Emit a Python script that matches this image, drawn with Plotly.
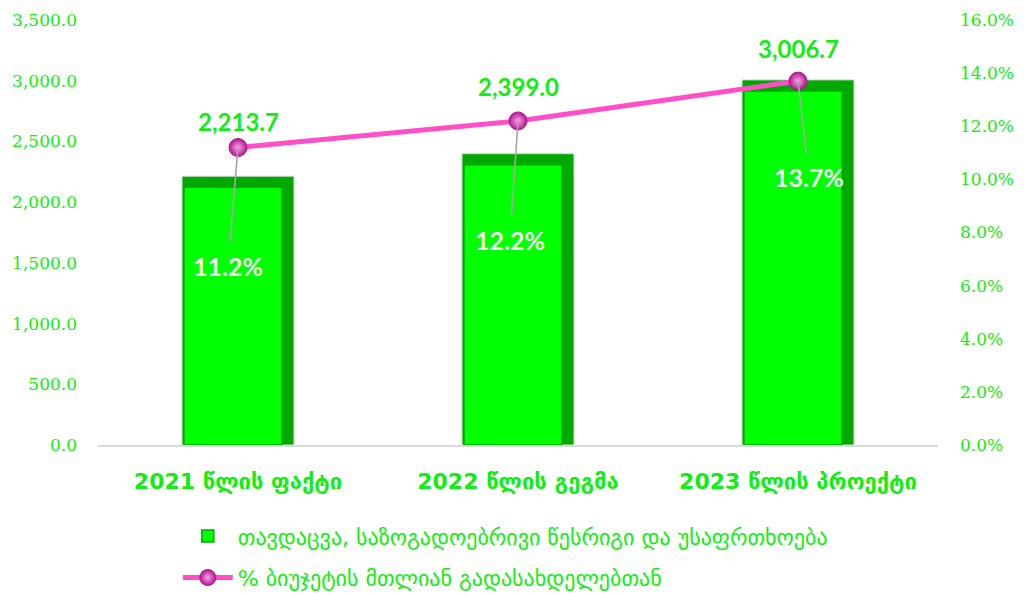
import plotly.graph_objects as go

# Spending on defence, public order and security (million GEL) and its share of the total budget
categories = ["2021 წლის ფაქტი", "2022 წლის გეგმა", "2023 წლის პროექტი"]
spending = [2213.7, 2399.0, 3006.7]
share_pct = [11.2, 12.2, 13.7]

bar_name = "თავდაცვა, საზოგადოებრივი წესრიგი და უსაფრთხოება"
line_name = "% ბიუჯეტის მთლიან გადასახდელებთან"

left_ticks = [0, 500, 1000, 1500, 2000, 2500, 3000, 3500]
right_ticks = [0, 0.02, 0.04, 0.06, 0.08, 0.10, 0.12, 0.14, 0.16]

GREEN = "#00FF00"
DARK_GREEN = "#00A800"
TEXT_GREEN = "#11EE11"
PINK = "#FF4FC8"

W, H = 1024, 596
M_L, M_R, M_T, M_B = 98, 86, 20, 151
plot_h = H - M_T - M_B
y_max = 3500
# bevel depth of the bar tops, expressed in data units
bevel = 11 * y_max / plot_h

share = [p / 100 for p in share_pct]

fig = go.Figure()

# outer (shaded) bar body
fig.add_trace(go.Bar(
    x=categories, y=spending, width=0.4,
    marker=dict(color=DARK_GREEN, line=dict(color="#D6D6D6", width=1)),
    showlegend=False, hoverinfo="skip",
))
# bright face of the bar, inset from the top and right edges
fig.add_trace(go.Bar(
    x=categories, y=[v - bevel for v in spending], width=0.35, offset=-0.193,
    marker=dict(color=GREEN, line=dict(color=DARK_GREEN, width=1.5)),
    name=bar_name, legendgroup="a",
))
# share of total budget
fig.add_trace(go.Scatter(
    x=categories, y=share, yaxis="y2", mode="lines+markers",
    line=dict(color=PINK, width=5),
    marker=dict(size=18, color="#B5148E",
                gradient=dict(type="radial", color="#F7A6EA"),
                line=dict(color="#B01A8C", width=1)),
    name=line_name, legendgroup="b",
))

annotations = []
# spending values above the bars
value_shift = [55, 67, 31]
for c, v, s in zip(categories, spending, value_shift):
    annotations.append(dict(
        x=c, y=v, xref="x", yref="y", text=f"{v:,.1f}", showarrow=False,
        yshift=s, font=dict(family="Lato", size=24, color=TEXT_GREEN, weight="bold"),
    ))
# share labels with leader lines to the markers
label_offsets = [(-10, 118), (-8, 119), (11, 96)]
for c, p, v, (ax, ay) in zip(categories, share_pct, share, label_offsets):
    annotations.append(dict(
        x=c, y=v, xref="x", yref="y2", text=f"{p:.1f}%", showarrow=True,
        ax=ax, ay=ay, arrowhead=0, arrowwidth=1.6, arrowcolor="#A6A6A6",
        borderpad=8, standoff=0,
        font=dict(family="Lato", size=25, color="#F4F4F4", weight="bold"),
    ))

fig.update_layout(
    width=W, height=H,
    margin=dict(l=M_L, r=M_R, t=M_T, b=M_B, autoexpand=False),
    paper_bgcolor="white", plot_bgcolor="white",
    barmode="overlay", bargap=0.6,
    xaxis=dict(
        showgrid=False, showline=True, linecolor="#D9D9D9", linewidth=2,
        ticks="", ticklabelstandoff=16,
        tickfont=dict(family="DejaVu Sans", size=22, color=TEXT_GREEN, weight="bold"),
    ),
    yaxis=dict(
        range=[0, y_max], tickvals=left_ticks, tickformat=",.1f",
        showgrid=False, zeroline=False, showline=False, ticks="",
        ticklabelstandoff=20,
        tickfont=dict(family="DejaVu Serif", size=17, color=TEXT_GREEN),
    ),
    yaxis2=dict(
        range=[0, 0.16], tickvals=right_ticks, tickformat=".1%",
        overlaying="y", side="right",
        showgrid=False, zeroline=False, showline=False, ticks="",
        ticklabelstandoff=21,
        tickfont=dict(family="DejaVu Serif", size=17, color=TEXT_GREEN),
    ),
    legend=dict(
        orientation="v", x=0.095, xanchor="left", y=-0.165, yanchor="top",
        traceorder="grouped", tracegroupgap=10,
        font=dict(family="DejaVu Sans", size=22, color=TEXT_GREEN),
        itemwidth=50,
    ),
    annotations=annotations,
)

fig.write_html("out.html")
